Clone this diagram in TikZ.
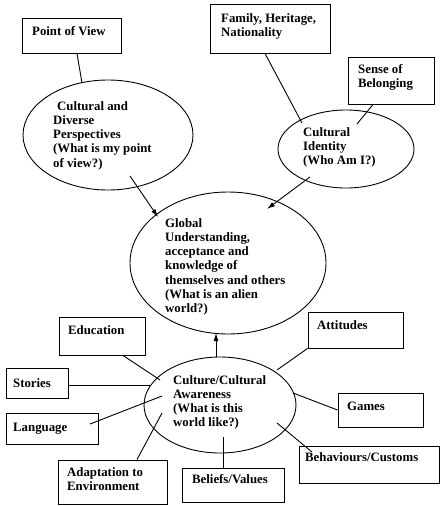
\documentclass[tikz,border=0pt]{standalone}
\usepackage{fontspec}
\setmainfont{Liberation Serif}
\usetikzlibrary{calc,shapes.geometric,arrows.meta}

\tikzset{
  ink/.style={line width=0.9pt, draw=black},
  box/.style={ink, rectangle, inner sep=0pt},
  oval/.style={ink, ellipse, inner sep=0pt},
  % the base anchor of a multi-line text sits on its last line
  txt/.style={inner sep=0pt, anchor=base west, align=left,
    font=\bfseries\fontsize{12.8}{14.3}\selectfont},
  link/.style={ink},
  feed/.style={ink, -{Latex[length=8pt,width=5pt]}},
}

\begin{document}
\begin{tikzpicture}[x=1pt,y=-1pt]
\useasboundingbox (0,0) rectangle (440,506);

% ---- ellipses ----
\node[oval, minimum width=170, minimum height=110] (cdp) at (108,135) {};
\node[oval, minimum width=136, minimum height=78]  (idn) at (346,149) {};
\node[oval, minimum width=196, minimum height=142] (glo) at (228,263) {};
\node[oval, minimum width=152, minimum height=96]  (cul) at (220,405) {};

% ---- boxes ----
\node[box, minimum width=99,  minimum height=35] (pov) at (71.5,35.5) {};
\node[box, minimum width=120, minimum height=49] (fam) at (270,28.5) {};
\node[box, minimum width=86,  minimum height=47] (sob) at (391,80.5) {};
\node[box, minimum width=86,  minimum height=38] (edu) at (102,336) {};
\node[box, minimum width=95,  minimum height=36] (att) at (355.5,330) {};
\node[box, minimum width=62,  minimum height=30] (sto) at (37,383) {};
\node[box, minimum width=92,  minimum height=31] (lan) at (52,428.5) {};
\node[box, minimum width=109, minimum height=44] (ada) at (112.5,482) {};
\node[box, minimum width=102, minimum height=34] (bel) at (233,485) {};
\node[box, minimum width=85,  minimum height=34] (gam) at (380.5,410) {};
\node[box, minimum width=140, minimum height=37] (beh) at (369,464.5) {};

% ---- texts (positions give the baseline of the last line) ----
\node[txt] (povT) at (32,35) {Point of View};
\node[txt] (famT) at (221,36.3) {Family, Heritage,\\Nationality};
\node[txt] (sobT) at (358,87.3) {Sense of\\Belonging};
\node[txt] (cdpT) at (53,167.2) {\hspace{4pt}Cultural and\\Diverse\\Perspectives\\(What is my point\\of view?)};
\node[txt] (idnT) at (303,164.6) {Cultural\\Identity\\(Who Am I?)};
\node[txt] (gloT) at (165,312.8) {Global\\Understanding,\\acceptance and\\knowledge of\\themselves and others\\(What is an alien\\world?)};
\node[txt] (culT) at (173,426.9) {Culture/Cultural\\Awareness\\(What is this\\world like?)};
\node[txt] (eduT) at (68,334) {Education};
\node[txt] (attT) at (317,329) {Attitudes};
\node[txt] (stoT) at (13,387) {Stories};
\node[txt] (lanT) at (13,431) {Language};
\node[txt] (adaT) at (67,490.3) {Adaptation to\\Environment};
\node[txt] (belT) at (192,483) {Beliefs/Values};
\node[txt] (gamT) at (347,410) {Games};
\node[txt] (behT) at (305,461) {Behaviours/Customs};

% ---- connectors: upper part ----
\draw[link] ($(pov.south)+(5.5,0)$) -- ($(cdp.center)+(-26,-52)$);
\draw[link] ($(fam.south)+(-5,0)$) -- ($(idn.center)+(-44,-26)$);
\draw[link] ($(sob.south)+(-18,0)$) -- ($(idn.center)+(11,-25)$);
\draw[feed] ($(cdp.center)+(22,41)$) -- ($(glo.center)+(-70,-46)$);
\draw[feed] ($(idn.center)+(-36,28)$) -- ($(glo.center)+(39,-54)$);
\draw[feed] ($(cul.center)+(-4,-48)$) -- ($(glo.center)+(-12,70)$);

% ---- connectors: around the awareness ellipse ----
\draw[link] ($(edu.south)+(21,0)$) -- ($(cul.center)+(-60,-25)$);
\draw[link] ($(sto.east)+(0,2)$) -- ($(cul.center)+(-69,-20)$);
\draw[link] ($(lan.center)+(38,-4.5)$) -- ($(cul.center)+(-58,-9)$);
\draw[link] ($(ada.north)+(24.5,0)$) -- ($(cul.center)+(-58,8)$);
\draw[link] ($(bel.north)+(-10,0)$) -- ($(cul.center)+(3,32)$);
\draw[link] (att.south west) -- ($(cul.center)+(57,-35)$);
\draw[link] (gam.west) -- ($(cul.center)+(73,-12)$);
\draw[link] ($(cul.center)+(57,18)$) -- ($(beh.center)+(-57,-12.5)$);
\end{tikzpicture}
\end{document}
